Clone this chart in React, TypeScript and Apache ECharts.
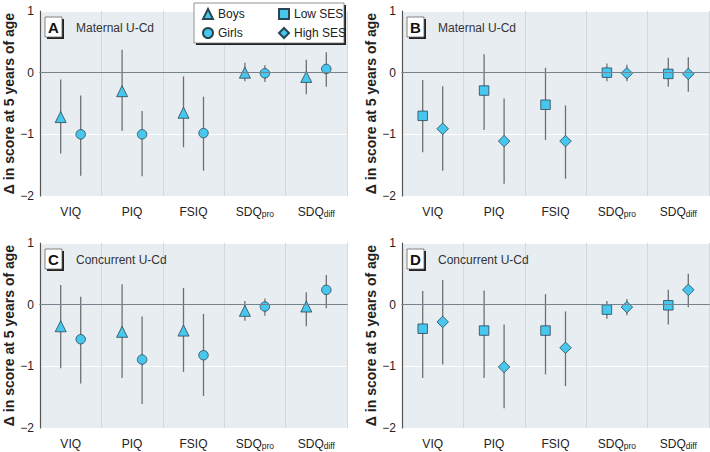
import React, { useEffect, useRef } from "react";
import * as echarts from "echarts";

const categories = ["VIQ", "PIQ", "FSIQ", "SDQ_pro", "SDQ_diff"];

// Panel A: maternal U-Cd by sex
const boysA = [-0.72, -0.3, -0.65, 0.0, -0.07];
const boysALow = [-1.31, -0.94, -1.21, -0.14, -0.35];
const boysAHigh = [-0.11, 0.37, -0.06, 0.16, 0.21];
const girlsA = [-1.0, -1.0, -0.98, -0.01, 0.06];
const girlsALow = [-1.67, -1.68, -1.59, -0.15, -0.23];
const girlsAHigh = [-0.37, -0.62, -0.39, 0.12, 0.33];

// Panel B: maternal U-Cd by SES
const lowB = [-0.7, -0.29, -0.52, 0.0, -0.02];
const lowBLow = [-1.29, -0.93, -1.09, -0.14, -0.23];
const lowBHigh = [-0.12, 0.3, 0.08, 0.15, 0.24];
const highB = [-0.91, -1.11, -1.11, -0.01, -0.02];
const highBLow = [-1.59, -1.8, -1.72, -0.14, -0.31];
const highBHigh = [-0.22, -0.42, -0.53, 0.13, 0.25];

// Panel C: concurrent U-Cd by sex
const boysC = [-0.35, -0.44, -0.42, -0.1, -0.03];
const boysCLow = [-1.03, -1.19, -1.09, -0.26, -0.35];
const boysCHigh = [0.32, 0.33, 0.27, 0.06, 0.2];
const girlsC = [-0.56, -0.89, -0.82, -0.03, 0.24];
const girlsCLow = [-1.28, -1.61, -1.48, -0.18, -0.06];
const girlsCHigh = [0.13, -0.19, -0.15, 0.1, 0.48];

// Panel D: concurrent U-Cd by SES
const lowD = [-0.39, -0.42, -0.42, -0.08, -0.01];
const lowDLow = [-1.19, -1.19, -1.13, -0.23, -0.32];
const lowDHigh = [0.22, 0.23, 0.17, 0.06, 0.24];
const highD = [-0.28, -1.01, -0.7, -0.04, 0.24];
const highDLow = [-0.97, -1.68, -1.32, -0.17, -0.04];
const highDHigh = [0.4, -0.32, -0.11, 0.09, 0.5];

const panelLetters = ["A", "B", "C", "D"];
const panelTitles = ["Maternal U-Cd", "Maternal U-Cd", "Concurrent U-Cd", "Concurrent U-Cd"];
const yAxisTitle = "Δ in score at 5 years of age";

const FONT = "'Liberation Sans', Arial, sans-serif";
const FILL = "#47c6ee";
const EDGE = "#2b4653";
const BAR = "#707070";
const BG = "#e8edf2";

const grids = [
  { left: 40, top: 11, width: 307, height: 185 },
  { left: 402, top: 11, width: 307, height: 185 },
  { left: 40, top: 243, width: 307, height: 185 },
  { left: 402, top: 243, width: 307, height: 185 },
];

type Group = { name: string; symbol: string; size: number; vals: number[]; lo: number[]; hi: number[]; dx: number };

const panels: Group[][] = [
  [
    { name: "Boys", symbol: "triangle", size: 11, vals: boysA, lo: boysALow, hi: boysAHigh, dx: -10 },
    { name: "Girls", symbol: "circle", size: 9.5, vals: girlsA, lo: girlsALow, hi: girlsAHigh, dx: 10 },
  ],
  [
    { name: "Low SES", symbol: "rect", size: 9.5, vals: lowB, lo: lowBLow, hi: lowBHigh, dx: -10 },
    { name: "High SES", symbol: "diamond", size: 11.5, vals: highB, lo: highBLow, hi: highBHigh, dx: 10 },
  ],
  [
    { name: "Boys", symbol: "triangle", size: 11, vals: boysC, lo: boysCLow, hi: boysCHigh, dx: -10 },
    { name: "Girls", symbol: "circle", size: 9.5, vals: girlsC, lo: girlsCLow, hi: girlsCHigh, dx: 10 },
  ],
  [
    { name: "Low SES", symbol: "rect", size: 9.5, vals: lowD, lo: lowDLow, hi: lowDHigh, dx: -10 },
    { name: "High SES", symbol: "diamond", size: 11.5, vals: highD, lo: highDLow, hi: highDHigh, dx: 10 },
  ],
];

function fmtY(v: number) {
  return v < 0 ? "\u2212" + Math.abs(v) : String(v);
}

function fmtX(v: string) {
  const parts = v.split("_");
  if (parts.length === 2) return "{b|" + parts[0] + "}{s|" + parts[1] + "}";
  return "{b|" + v + "}";
}

export default function App() {
  const ref = useRef<HTMLDivElement>(null);
  useEffect(() => {
    if (!ref.current) return;
    const chart = echarts.init(ref.current, null, { renderer: "svg" });

    const xAxis: any[] = [];
    const yAxis: any[] = [];
    const series: any[] = [];
    const graphic: any[] = [];

    grids.forEach((g, i) => {
      xAxis.push({
        type: "category",
        gridIndex: i,
        data: categories,
        boundaryGap: true,
        axisLine: { show: true, lineStyle: { color: "#555", width: 1.2 } },
        axisTick: { show: false },
        splitLine: { show: true, interval: 0, lineStyle: { color: "#d3d9df", width: 1 } },
        axisLabel: {
          interval: 0,
          margin: 8,
          formatter: fmtX,
          rich: {
            b: { fontFamily: FONT, fontSize: 12, color: "#222", lineHeight: 14, verticalAlign: "bottom" },
            s: { fontFamily: FONT, fontSize: 8.5, color: "#222", lineHeight: 14, verticalAlign: "bottom", padding: [7, 0, 0, 0] },
          },
        },
      });
      yAxis.push({
        type: "value",
        gridIndex: i,
        min: -2,
        max: 1,
        interval: 1,
        name: yAxisTitle,
        nameLocation: "middle",
        nameGap: 23,
        nameTextStyle: { fontFamily: FONT, fontSize: 14, fontWeight: "bold", color: "#222" },
        axisLine: { show: true, lineStyle: { color: "#555", width: 1.2 } },
        axisTick: { show: false },
        axisLabel: { formatter: fmtY, fontFamily: FONT, fontSize: 12, color: "#222", margin: 6 },
        splitLine: { show: true, lineStyle: { color: "#ffffff", width: 1 } },
      });

      panels[i].forEach((grp, k) => {
        series.push({
          type: "custom",
          name: "err-" + grp.name + "-" + i,
          xAxisIndex: i,
          yAxisIndex: i,
          silent: true,
          z: 2,
          data: categories.map((c, j) => [j, grp.lo[j], grp.hi[j]]),
          renderItem: (params: any, api: any) => {
            const p1 = api.coord([api.value(0), api.value(1)]);
            const p2 = api.coord([api.value(0), api.value(2)]);
            return {
              type: "line",
              shape: { x1: p1[0] + grp.dx, y1: p1[1], x2: p2[0] + grp.dx, y2: p2[1] },
              style: { stroke: BAR, lineWidth: 1.3 },
            };
          },
          ...(k === 0 && {
            markLine: {
              silent: true,
              symbol: "none",
              label: { show: false },
              lineStyle: { color: "#76838c", width: 1.2, type: "solid" },
              data: [{ yAxis: 0 }],
            },
          }),
        });
        series.push({
          type: "scatter",
          name: grp.name,
          xAxisIndex: i,
          yAxisIndex: i,
          z: 3,
          symbol: grp.symbol,
          symbolSize: grp.size,
          symbolOffset: [grp.dx, 0],
          itemStyle: { color: FILL, borderColor: EDGE, borderWidth: 0.8, opacity: 1 },
          data: grp.vals,
        });
      });

      // panel letter box and title
      const bx = g.left + 5;
      const by = g.top + 6;
      graphic.push(
        { type: "rect", shape: { x: bx + 2, y: by + 2, width: 17, height: 20 }, style: { fill: "#222" }, z: 10 },
        { type: "rect", shape: { x: bx, y: by, width: 17, height: 20 }, style: { fill: "#fff", stroke: "#666", lineWidth: 0.8 }, z: 11 },
        {
          type: "text",
          x: bx + 8.5,
          y: by + 10.5,
          z: 12,
          style: { text: panelLetters[i], fontFamily: FONT, fontSize: 15, fontWeight: "bold", fill: "#111", align: "center", verticalAlign: "middle" },
        },
        {
          type: "text",
          x: g.left + 36,
          y: by + 11,
          z: 12,
          style: { text: panelTitles[i], fontFamily: FONT, fontSize: 12, fill: "#333", align: "left", verticalAlign: "middle" },
        }
      );
    });

    // legend box
    graphic.push(
      { type: "rect", shape: { x: 196, y: 5, width: 150, height: 40 }, style: { fill: "#222" }, z: 10 },
      { type: "rect", shape: { x: 194, y: 3, width: 150, height: 40 }, style: { fill: "#fff", stroke: "#777", lineWidth: 0.8 }, z: 11 }
    );

    const legendCommon = {
      orient: "vertical",
      top: 8,
      padding: 0,
      itemGap: 7,
      itemWidth: 10,
      itemHeight: 10,
      z: 20,
      selectedMode: false,
      textStyle: { fontFamily: FONT, fontSize: 12, color: "#222", lineHeight: 12 },
    };

    chart.setOption({
      animation: false,
      backgroundColor: "#ffffff",
      grid: grids.map((g) => ({ ...g, show: true, backgroundColor: BG, borderWidth: 0, containLabel: false })),
      xAxis,
      yAxis,
      series,
      graphic,
      legend: [
        { ...legendCommon, left: 202, data: ["Boys", "Girls"] },
        { ...legendCommon, left: 278, data: ["Low SES", "High SES"] },
      ],
    });

    return () => chart.dispose();
  }, []);

  return <div ref={ref} style={{ position: "fixed", left: 0, top: 0, width: 710, height: 452 }} />;
}
